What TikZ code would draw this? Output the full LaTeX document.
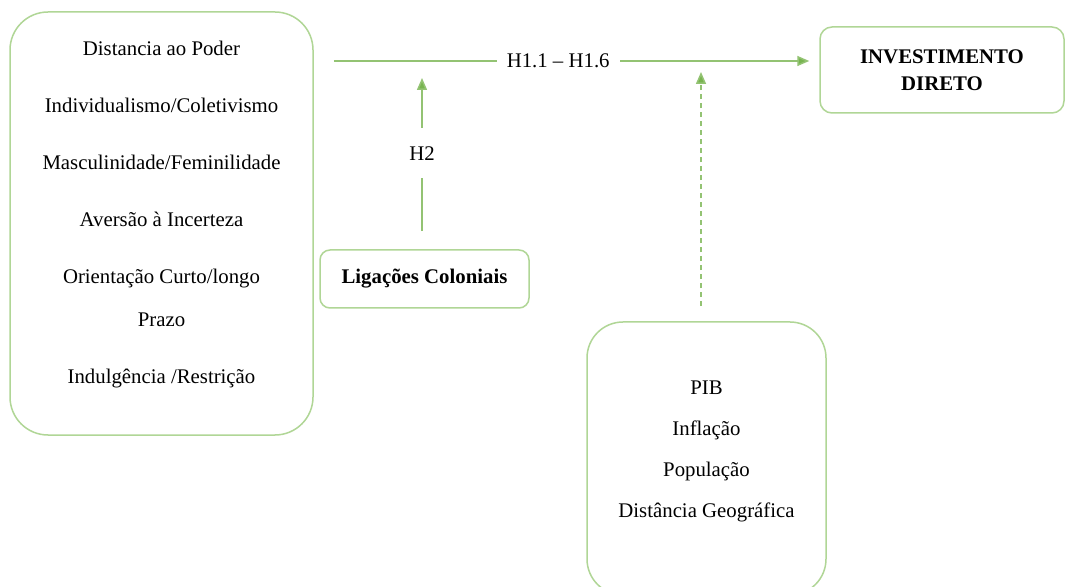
\documentclass[tikz,border=0pt]{standalone}
\usepackage{fontspec}
\setmainfont{Liberation Serif}
\usetikzlibrary{arrows.meta,positioning}
\definecolor{boxgreen}{RGB}{176,214,150}
\definecolor{arrgreen}{RGB}{120,180,80}

\begin{document}
\begin{tikzpicture}[x=0.5pt,y=-0.5pt,
    font=\fontsize{10.4}{12.5}\selectfont,
    box/.style={draw=boxgreen,line width=0.75pt,rounded corners=#1},
    box/.default=6pt,
    arr/.style={draw=arrgreen!80,line width=0.75pt,-{Triangle[width=5pt,length=6pt,fill=arrgreen]}},
    lbl/.style={fill=white,inner xsep=5pt,inner ysep=9pt}]
   \clip (0,0) rectangle (1065,587);
   \fill[white] (0,0) rectangle (1065,587);

   % boxes
   \node[box=19pt,minimum width=151.5pt,minimum height=211.5pt] (cult) at (161.5,223.5) {};
   \node[align=center] (culttxt) at (161.5,215) {Distancia ao Poder\\[16pt]
      Individualismo/Coletivismo\\[16pt]
      Masculinidade/Feminilidade\\[16pt]
      Aversão à Incerteza\\[16pt]
      Orientação Curto/longo\\[9pt]
      Prazo\\[16pt]
      Indulgência /Restrição};
   \node[box=5pt,minimum width=104.5pt,minimum height=29pt,font=\fontsize{10.4}{12.5}\selectfont\bfseries] (lig) at (424.5,279) {Ligações Coloniais};
   \node[box,minimum width=122pt,minimum height=43pt,align=center,font=\fontsize{10.4}{12.5}\selectfont\bfseries] (inv) at (942,70) {INVESTIMENTO\\[1pt]DIRETO};
   \node[box=18pt,minimum width=119.5pt,minimum height=136.5pt] (ctrl) at (706.5,458.5) {};
   \node[align=center] (ctrltxt) at (706.5,451.5) {PIB\\[8pt]Inflação\\[8pt]População\\[8pt]Distância Geográfica};

   % hypotheses
   \coordinate (h1y) at (0,61);
   \coordinate (h2e) at (422,78);
   \coordinate (h3e) at (701,72);
   \draw[arr] ([xshift=10pt]cult.east |- h1y) -- node[lbl,pos=0.472] (h1lbl) {H1.1 -- H1.6} ([xshift=-5pt]inv.west |- h1y);
   \draw[arr,shorten <=9pt] (lig.north -| h2e) -- node[lbl,pos=0.56] (h2lbl) {H2} (h2e);
   \draw[arr,dash pattern=on 2.5pt off 2pt,shorten <=7.5pt] (ctrl.north -| h3e) -- (h3e);
\end{tikzpicture}
\end{document}
